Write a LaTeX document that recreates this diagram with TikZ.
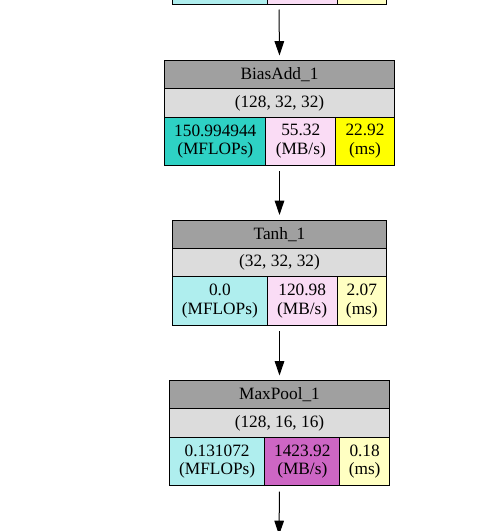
\documentclass[tikz,border=0pt]{standalone}
\usepackage{fontspec}
\setmainfont{Liberation Serif}
\usetikzlibrary{arrows.meta}
\definecolor{hdr}{HTML}{A0A0A0}
\definecolor{shp}{HTML}{DCDCDC}
\definecolor{cyanL}{HTML}{AFEEEE}
\definecolor{cyanD}{HTML}{2ED1C4}
\definecolor{pinkL}{HTML}{FADCF5}
\definecolor{pinkD}{HTML}{CD66C4}
\definecolor{yelL}{HTML}{FFFFC2}
\definecolor{yelD}{HTML}{FFFF00}
\begin{document}
\begin{tikzpicture}[x=1pt,y=-1pt,
  cell/.style={draw=black, line width=1pt, inner sep=0pt, anchor=north west,
    align=center, font=\fontsize{17.3}{18.3}\selectfont},
  flow/.style={-{Triangle[length=14.3pt,width=9.5pt]}, line width=1pt,
    shorten <=5.5pt, shorten >=4.5pt}]
\useasboundingbox (0,0) rectangle (495,531);
\clip (0,0) rectangle (495,531);

% partially visible block at the top
\node[cell, fill=cyanL, minimum width=94.7pt, minimum height=44pt] (t0a) at (172,-40) {};
\node[cell, fill=pinkL, minimum width=70pt,   minimum height=44pt] (t0b) at (266.7,-40) {};
\node[cell, fill=yelL,  minimum width=49.3pt, minimum height=44pt] (t0c) at (336.7,-40) {};
\coordinate (t0bot) at (279,4);

% BiasAdd_1
\node[cell, fill=hdr, minimum width=229.4pt, minimum height=28.3pt] (b1h) at (164.3,60) {BiasAdd\_1};
\node[cell, fill=shp, minimum width=229.4pt, minimum height=28.7pt] (b1s) at (164.3,88.3) {(128, 32, 32)};
\node[cell, fill=cyanD, minimum width=101pt,  minimum height=47.5pt] (b1a) at (164.3,117) {150.994944\\(MFLOPs)};
\node[cell, fill=pinkL, minimum width=70pt,   minimum height=47.5pt] (b1b) at (265.3,117) {55.32\\(MB/s)};
\node[cell, fill=yelD,  minimum width=58.4pt, minimum height=47.5pt] (b1c) at (335.3,117) {22.92\\(ms)};

% Tanh_1
\node[cell, fill=hdr, minimum width=214pt, minimum height=28.3pt] (b2h) at (172,219.5) {Tanh\_1};
\node[cell, fill=shp, minimum width=214pt, minimum height=28.5pt] (b2s) at (172,247.8) {(32, 32, 32)};
\node[cell, fill=cyanL, minimum width=94.7pt, minimum height=48.3pt] (b2a) at (172,276.3) {0.0\\(MFLOPs)};
\node[cell, fill=pinkL, minimum width=70pt,   minimum height=48.3pt] (b2b) at (266.7,276.3) {120.98\\(MB/s)};
\node[cell, fill=yelL,  minimum width=49.3pt, minimum height=48.3pt] (b2c) at (336.7,276.3) {2.07\\(ms)};

% MaxPool_1
\node[cell, fill=hdr, minimum width=220pt, minimum height=28.3pt] (b3h) at (169,380) {MaxPool\_1};
\node[cell, fill=shp, minimum width=220pt, minimum height=28.4pt] (b3s) at (169,408.3) {(128, 16, 16)};
\node[cell, fill=cyanL, minimum width=95.3pt, minimum height=48.3pt] (b3a) at (169,436.7) {0.131072\\(MFLOPs)};
\node[cell, fill=pinkD, minimum width=75pt,   minimum height=48.3pt] (b3b) at (264.3,436.7) {1423.92\\(MB/s)};
\node[cell, fill=yelL,  minimum width=49.7pt, minimum height=48.3pt] (b3c) at (339.3,436.7) {0.18\\(ms)};
\coordinate (nxt) at (279,539.5);

% connectors
\draw[flow] (t0bot) -- (b1h.north);
\draw[flow] (b1a.south -| b1h.north) -- (b2h.north);
\draw[flow] (b2a.south -| b2h.north) -- (b3h.north);
\draw[flow] (b3a.south -| b3h.north) -- (nxt);
\end{tikzpicture}
\end{document}
